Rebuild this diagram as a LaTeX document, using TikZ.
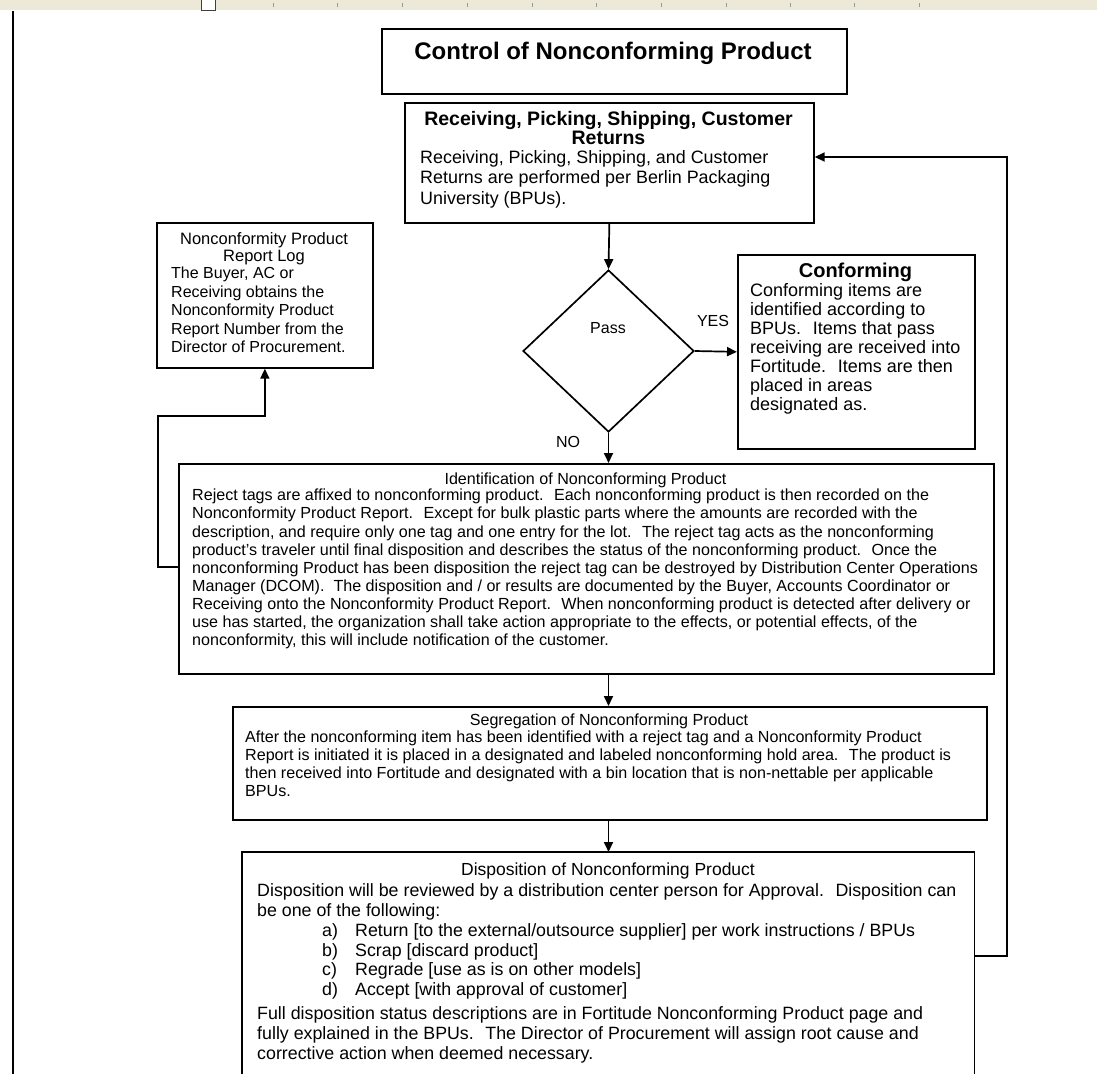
\documentclass[tikz,border=0pt]{standalone}
\usepackage{fontspec}
\setmainfont{Liberation Sans}
\usetikzlibrary{arrows.meta,shapes.geometric}
\newcommand\myfs[2]{\fontsize{#1pt}{#2pt}\selectfont}
\definecolor{rulerbg}{HTML}{ECE9D8}
\definecolor{tickgray}{HTML}{9A9890}
\begin{document}
\begin{tikzpicture}[x=1pt,y=-1pt,
  boxline/.style={draw=black,line width=1.7pt},
  box/.style={boxline,rectangle,inner sep=0pt,anchor=north west},
  arr/.style={line width=1.7pt,-{Triangle[length=10pt,width=9pt]}},
  txt/.style={inner sep=0pt,align=left,anchor=north west,text=black},
  ctxt/.style={inner sep=0pt,align=center,anchor=north,text=black},
  btxt/.style={inner sep=0pt,anchor=base,text=black},
]
\useasboundingbox (0,0) rectangle (1097,1074);
\fill[white] (0,0) rectangle (1097,1074);
% ruler
\fill[rulerbg] (0,0) rectangle (1097,10);
\foreach \x in {273,337,402,467,532,596,661,726,790,854,919}
  \draw[tickgray,line width=0.8pt] (\x,3) -- (\x,7);
\fill[white] (201,0) rectangle (215,10);
\draw[black!75,line width=1pt] (201,0) -- (201,10) -- (215,10) -- (215,0);
% left margin line
\draw[line width=1.7pt] (13,11) -- (13,1074);

% title
\node[box,minimum width=465pt,minimum height=65pt] (title) at (381,28) {};
\node[ctxt,font=\myfs{24}{26}\bfseries] (titleT) at (613,42) {Control of Nonconforming Product};

% receiving
\node[box,minimum width=409pt,minimum height=120pt] (recv) at (404,102) {};
\node[ctxt,font=\myfs{19.5}{19}\bfseries] (recvT) at (608.5,111) {Receiving, Picking, Shipping, Customer\\Returns};
\node[txt,font=\myfs{17.9}{20.5}] (recvB) at (420,150) {Receiving, Picking, Shipping, and Customer\\Returns are performed per Berlin Packaging\\University (BPUs).};

% log
\node[box,minimum width=216pt,minimum height=145pt] (log) at (156,222) {};
\node[ctxt,font=\myfs{16.5}{17}] (logT) at (264,232) {Nonconformity Product\\Report Log};
\node[txt,font=\myfs{16}{18.5}] (logB) at (171,267) {The Buyer, AC or\\Receiving obtains the\\Nonconformity Product\\Report Number from the\\Director of Procurement.};

% decision
\node[draw=black,line width=1.7pt,shape=diamond,inner sep=0pt,minimum width=171pt,minimum height=162pt] (dia) at (608.5,351) {};
\node[btxt,font=\myfs{16}{18}] (pass) at (608,333) {Pass};
\node[btxt,font=\myfs{16}{18}] (yes) at (713,326) {YES};
\node[btxt,font=\myfs{16}{18}] (no) at (568,447) {NO};

% conforming
\node[box,minimum width=237pt,minimum height=194pt] (conf) at (737,254) {};
\node[btxt,font=\myfs{20}{22}\bfseries] (confT) at (855.5,277) {Conforming};
\node[txt,font=\myfs{18}{19}] (confB) at (750,283) {Conforming items are\\identified according to\\BPUs.~ Items that pass\\receiving are received into\\Fortitude.~ Items are then\\placed in areas\\designated as.};

% identification
\node[box,minimum width=815pt,minimum height=210pt] (ident) at (178,463) {};
\node[btxt,font=\myfs{16.1}{18}] (identT) at (585.5,484) {Identification of Nonconforming Product};
\node[txt,font=\myfs{16.1}{18.1}] (identB) at (192,489) {Reject tags are affixed to nonconforming product.~ Each nonconforming product is then recorded on the\\
Nonconformity Product Report.~ Except for bulk plastic parts where the amounts are recorded with the\\
description, and require only one tag and one entry for the lot.~ The reject tag acts as the nonconforming\\
product's traveler until final disposition and describes the status of the nonconforming product.~ Once the\\
nonconforming Product has been disposition the reject tag can be destroyed by Distribution Center Operations\\
Manager (DCOM).~ The disposition and / or results are documented by the Buyer, Accounts Coordinator or\\
Receiving onto the Nonconformity Product Report.~ When nonconforming product is detected after delivery or\\
use has started, the organization shall take action appropriate to the effects, or potential effects, of the\\
nonconformity, this will include notification of the customer.};

% segregation
\node[box,minimum width=754pt,minimum height=113pt] (seg) at (232,706) {};
\node[btxt,font=\myfs{16.1}{18}] (segT) at (609,725) {Segregation of Nonconforming Product};
\node[txt,font=\myfs{16.1}{18}] (segB) at (245,730.5) {After the nonconforming item has been identified with a reject tag and a Nonconformity Product\\
Report is initiated it is placed in a designated and labeled nonconforming hold area.~ The product is\\
then received into Fortitude and designated with a bin location that is non-nettable per applicable\\
BPUs.};

% disposition (bottom runs off the page)
\node[rectangle,inner sep=0pt,anchor=north west,minimum width=732pt,minimum height=222pt] (disp) at (242,852) {};
\draw[boxline] (disp.south west) -- (disp.north west) -- (disp.north east) -- (disp.south east);
\node[btxt,font=\myfs{17.5}{18}] (dispT) at (608,875) {Disposition of Nonconforming Product};
\node[txt,font=\myfs{17.8}{19.5}] (dispB1) at (257,883.4) {Disposition will be reviewed by a distribution center person for Approval.~ Disposition can\\be one of the following:};
\node[txt,font=\myfs{17.8}{19.5}] (dispL) at (322,923.4) {\makebox[33pt][l]{a)}Return [to the external/outsource supplier] per work instructions / BPUs\\
\makebox[33pt][l]{b)}Scrap [discard product]\\
\makebox[33pt][l]{c)}Regrade [use as is on other models]\\
\makebox[33pt][l]{d)}Accept [with approval of customer]};
\node[txt,font=\myfs{17.8}{20}] (dispB2) at (257,1006.4) {Full disposition status descriptions are in Fortitude Nonconforming Product page and\\fully explained in the BPUs.~ The Director of Procurement will assign root cause and\\corrective action when deemed necessary.};

% connectors
\coordinate (lj) at (158,567);
\coordinate (lk) at (158,416);
\coordinate (fb1) at (1007,956);
\coordinate (fb2) at (1007,157);
\draw[arr] (recv.south) -- (dia.north);
\draw[arr] (dia.east) -- (conf.west);
\draw[arr] (dia.south) -- (dia.south |- ident.north);
\draw[arr] (dia.south |- ident.south) -- (dia.south |- seg.north);
\draw[arr] (dia.south |- seg.south) -- (dia.south |- disp.north);
\draw[arr] (ident.west |- lj) -- (lj) -- (lk) -- (lk -| log.south) -- (log.south);
\draw[arr] (disp.east |- fb1) -- (fb1) -- (fb2) -- (recv.east |- fb2);
\end{tikzpicture}
\end{document}
